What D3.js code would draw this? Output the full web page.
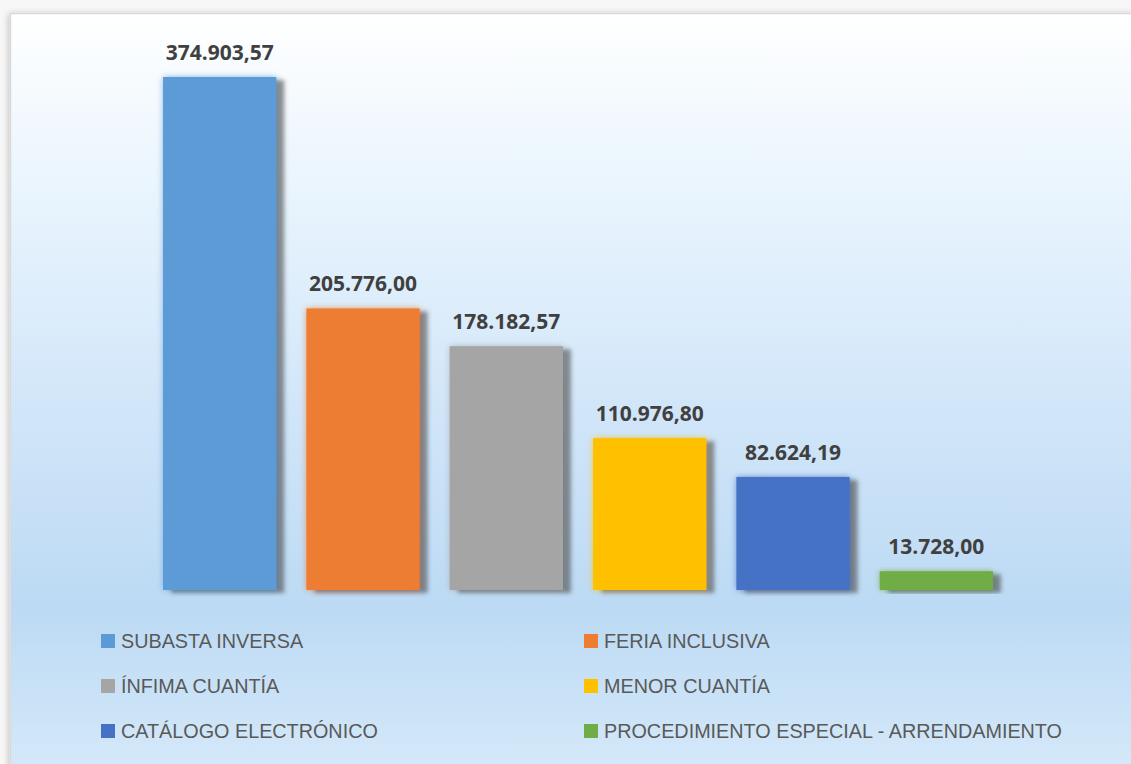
<!DOCTYPE html>
<html>
<head>
<meta charset="utf-8">
<script src="https://cdn.jsdelivr.net/npm/d3@7"></script>
<style>
  html, body { margin: 0; padding: 0; background: #f7f7f7; }
  svg { display: block; }
</style>
</head>
<body>
<svg id="chart" width="1131" height="764"></svg>
<script>
// chart data
var categories = ["SUBASTA INVERSA", "FERIA INCLUSIVA", "ÍNFIMA CUANTÍA",
                  "MENOR CUANTÍA", "CATÁLOGO ELECTRÓNICO", "PROCEDIMIENTO ESPECIAL - ARRENDAMIENTO"];
var values = [374903.57, 205776.00, 178182.57, 110976.80, 82624.19, 13728.00];
var barColors = ["#5b9bd5", "#ed7d31", "#a5a5a5", "#ffc000", "#4472c4", "#70ad47"];
var valueLabels = ["374.903,57", "205.776,00", "178.182,57", "110.976,80", "82.624,19", "13.728,00"];

var svg = d3.select("#chart");
var defs = svg.append("defs");

// background gradient of the chart area
var grad = defs.append("linearGradient").attr("id", "bgGrad")
    .attr("gradientUnits", "userSpaceOnUse")
    .attr("x1", 0).attr("y1", 13).attr("x2", 0).attr("y2", 764);
grad.append("stop").attr("offset", "0").attr("stop-color", "#ffffff");
grad.append("stop").attr("offset", "0.25").attr("stop-color", "#e8f4fd");
grad.append("stop").attr("offset", "0.52").attr("stop-color", "#d2e6f9");
grad.append("stop").attr("offset", "0.79").attr("stop-color", "#bcdaf4");
grad.append("stop").attr("offset", "1").attr("stop-color", "#d4e8f9");

// outer shadow on the left of the frame
var sideShadow = defs.append("filter").attr("id", "frameShadow")
    .attr("x", "-5%").attr("y", "-5%").attr("width", "110%").attr("height", "110%");
sideShadow.append("feGaussianBlur").attr("in", "SourceAlpha").attr("stdDeviation", 3).attr("result", "b");
sideShadow.append("feOffset").attr("in", "b").attr("dx", -1).attr("dy", 1).attr("result", "o");
sideShadow.append("feComponentTransfer").attr("in", "o").attr("result", "s")
    .append("feFuncA").attr("type", "linear").attr("slope", 0.25);
var sm = sideShadow.append("feMerge");
sm.append("feMergeNode").attr("in", "s");
sm.append("feMergeNode").attr("in", "SourceGraphic");

svg.append("rect")
    .attr("x", 10.5).attr("y", 13.5)
    .attr("width", 1140).attr("height", 770)
    .style("fill", "url(#bgGrad)")
    .style("stroke", "#d9d9d9")
    .style("stroke-width", 1.5)
    .attr("filter", "url(#frameShadow)");

// bar effect: soft glow + shadow offset to the lower right
var barFx = defs.append("filter").attr("id", "barFx")
    .attr("x", "-20%").attr("y", "-20%").attr("width", "140%").attr("height", "140%");
barFx.append("feGaussianBlur").attr("in", "SourceGraphic").attr("stdDeviation", 3).attr("result", "glowBlur");
barFx.append("feComponentTransfer").attr("in", "glowBlur").attr("result", "glow")
    .append("feFuncA").attr("type", "linear").attr("slope", 0.7);
barFx.append("feOffset").attr("in", "SourceAlpha").attr("dx", 8).attr("dy", 3).attr("result", "off");
barFx.append("feGaussianBlur").attr("in", "off").attr("stdDeviation", 2).attr("result", "offBlur");
barFx.append("feFlood").attr("flood-color", "#4a4a4a").attr("flood-opacity", 0.6).attr("result", "col");
barFx.append("feComposite").attr("in", "col").attr("in2", "offBlur").attr("operator", "in").attr("result", "shadow");
var bm = barFx.append("feMerge");
bm.append("feMergeNode").attr("in", "glow");
bm.append("feMergeNode").attr("in", "shadow");
bm.append("feMergeNode").attr("in", "SourceGraphic");

// scales
var x = d3.scaleBand()
    .domain(categories)
    .range([148, 1008])
    .paddingInner(0.21)
    .paddingOuter(0.105);

var y = d3.scaleLinear()
    .domain([0, 374903.57])
    .range([590, 77]);

var bars = svg.append("g").attr("id", "bars");

bars.selectAll("rect")
    .data(values)
    .enter().append("rect")
    .attr("x", function(d, i) { return x(categories[i]); })
    .attr("y", function(d) { return y(d); })
    .attr("width", x.bandwidth())
    .attr("height", function(d) { return y(0) - y(d); })
    .style("fill", function(d, i) { return barColors[i]; })
    .attr("filter", "url(#barFx)");

bars.selectAll("text")
    .data(values)
    .enter().append("text")
    .attr("x", function(d, i) { return x(categories[i]) + x.bandwidth() / 2; })
    .attr("y", function(d) { return y(d) - 17; })
    .attr("text-anchor", "middle")
    .style("font-family", "'Open Sans', 'Liberation Sans', sans-serif")
    .style("font-weight", "bold")
    .style("font-size", "21px")
    .style("fill", "#404040")
    .text(function(d, i) { return valueLabels[i]; });

// legend, two columns
var legendCols = [101, 584];
var legendRows = [641, 686, 731];

var legend = svg.append("g").attr("id", "legend");
var item = legend.selectAll("g")
    .data(categories)
    .enter().append("g")
    .attr("transform", function(d, i) {
        return "translate(" + legendCols[i % 2] + "," + legendRows[Math.floor(i / 2)] + ")";
    });

item.append("rect")
    .attr("x", 0).attr("y", -7)
    .attr("width", 14).attr("height", 14)
    .style("fill", function(d, i) { return barColors[i]; });

item.append("text")
    .attr("x", 20).attr("y", 7)
    .style("font-family", "'Liberation Sans', Arial, sans-serif")
    .style("font-size", "19.8px")
    .style("fill", "#595959")
    .text(function(d) { return d; });
</script>
</body>
</html>
